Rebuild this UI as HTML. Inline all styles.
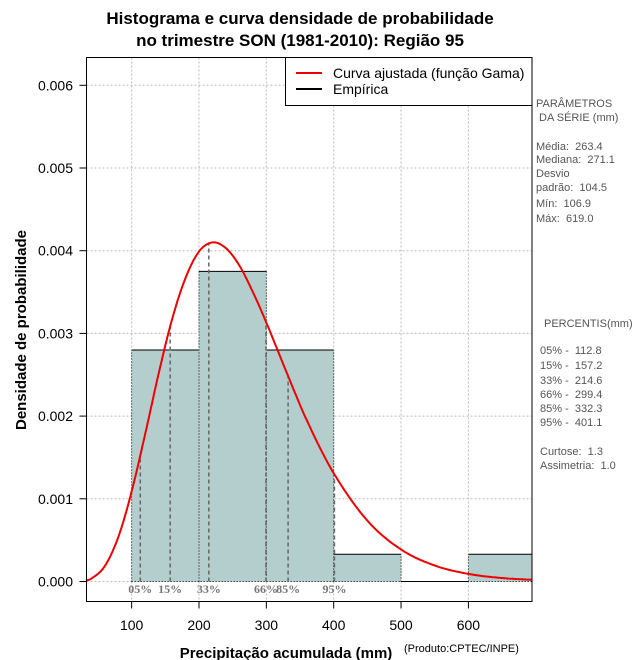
<!DOCTYPE html>
<html><head><meta charset="utf-8">
<style>
html,body{margin:0;padding:0;background:#fff;}
svg{display:block;font-family:"Liberation Sans",sans-serif;}
.side{font-size:11px;fill:#555;white-space:pre;}
</style></head>
<body>
<svg id="chart" width="640" height="660" viewBox="0 0 640 660" xmlns="http://www.w3.org/2000/svg">
<defs><clipPath id="clip"><rect x="86.5" y="57.5" width="445.5" height="544"/></clipPath></defs>
<text x="300" y="24" text-anchor="middle" font-size="17" font-weight="bold">Histograma e curva densidade de probabilidade</text>
<text x="300" y="46" text-anchor="middle" font-size="17" font-weight="bold">no trimestre SON (1981-2010): Região 95</text>
<g id="grid"></g>
<g id="bars" clip-path="url(#clip)"></g>
<g id="pct"></g>
<g id="curve" clip-path="url(#clip)"></g>
<g id="axes"></g>
<rect x="86.5" y="57.5" width="445.5" height="544" fill="none" stroke="#000"/>
<g>
<rect x="285.5" y="57.5" width="246.5" height="48" fill="#fff" stroke="#000"/>
<line x1="296" y1="73" x2="322" y2="73" stroke="#e00" stroke-width="2"/>
<text x="333" y="78" font-size="14">Curva ajustada (função Gama)</text>
<line x1="296" y1="89" x2="322" y2="89" stroke="#000" stroke-width="2"/>
<text x="333" y="94" font-size="14">Empírica</text>
</g>
<g>
<text class="side" x="536" y="107">PARÂMETROS</text>
<text class="side" x="539" y="121">DA SÉRIE (mm)</text>
<text class="side" x="536" y="150">Média:  263.4</text>
<text class="side" x="536" y="163">Mediana:  271.1</text>
<text class="side" x="536" y="177">Desvio</text>
<text class="side" x="536" y="191">padrão:  104.5</text>
<text class="side" x="536" y="207">Mín:  106.9</text>
<text class="side" x="536" y="222">Máx:  619.0</text>
</g>
<g>
<text class="side" x="544" y="327">PERCENTIS(mm)</text>
<text class="side" x="540" y="354">05% -  112.8</text>
<text class="side" x="540" y="369">15% -  157.2</text>
<text class="side" x="540" y="384">33% -  214.6</text>
<text class="side" x="540" y="398">66% -  299.4</text>
<text class="side" x="540" y="412">85% -  332.3</text>
<text class="side" x="540" y="426">95% -  401.1</text>
<text class="side" x="540" y="455">Curtose:  1.3</text>
<text class="side" x="540" y="469">Assimetria:  1.0</text>
</g>
<text transform="translate(26,330) rotate(-90)" text-anchor="middle" font-size="15" font-weight="bold">Densidade de probabilidade</text>
<text x="286" y="658" text-anchor="middle" font-size="15" font-weight="bold">Precipitação acumulada (mm)</text>
<text x="404" y="652" font-size="11">(Produto:CPTEC/INPE)</text>
</svg>
<script>
const binStarts = [100, 200, 300, 400, 500, 600];
const binDensity = [0.0028, 0.00375, 0.0028, 0.00033, 0, 0.00033];
const curveX = [20,30,40,60,80,100,120,140,160,180,200,220,240,260,280,300,330,360,400,450,500,550,600,650,700,720];
const curveY = [0.000004,0.00001,0.0000342,0.000185,0.000533,0.001088,0.00178,0.00251,0.00317,0.00367,0.00399,0.00410,0.00403,0.00382,0.00350,0.00313,0.00253,0.00195,0.00131,0.000736,0.000387,0.000193,0.000092,0.000042,0.000019,0.000014];
const pctLabels = ["05%","15%","33%","66%","85%","95%"];
const pctValues = [112.8,157.2,214.6,299.4,332.3,401.1];
const xTicks = [100,200,300,400,500,600];
const yTicks = [0,0.001,0.002,0.003,0.004,0.005,0.006];
const yTickLabels = ["0.000","0.001","0.002","0.003","0.004","0.005","0.006"];

const NS = "http://www.w3.org/2000/svg";
const X = v => 64.3 + v * 0.6735;
const Y = v => 581.5 - v * 82700;
const L = 86.5, R = 532, T = 57.5, B = 601.5;
function mk(tag, attrs, parent) {
  const e = document.createElementNS(NS, tag);
  for (const k in attrs) e.setAttribute(k, attrs[k]);
  document.getElementById(parent).appendChild(e);
  return e;
}
// Catmull-Rom evaluation over data points
function crAt(i, t) {
  const p0 = curveY[Math.max(i-1,0)], p1 = curveY[i], p2 = curveY[i+1], p3 = curveY[Math.min(i+2,curveY.length-1)];
  const x0 = curveX[Math.max(i-1,0)], x1 = curveX[i], x2 = curveX[i+1], x3 = curveX[Math.min(i+2,curveX.length-1)];
  const h = x2 - x1;
  const m1 = (p2 - p0) / (x2 - x0) * h, m2 = (p3 - p1) / (x3 - x1) * h;
  const t2 = t*t, t3 = t2*t;
  return (2*t3-3*t2+1)*p1 + (t3-2*t2+t)*m1 + (-2*t3+3*t2)*p2 + (t3-t2)*m2;
}
function interp(x) {
  for (let i = 0; i < curveX.length - 1; i++) {
    if (x >= curveX[i] && x <= curveX[i+1]) return crAt(i, (x - curveX[i]) / (curveX[i+1] - curveX[i]));
  }
  return 0;
}
xTicks.forEach(t => {
  const g = mk("line", {x1: X(t), x2: X(t), y1: T, y2: B, stroke: "#bbb", "stroke-dasharray": "2,2"}, "grid");
  
  
});
yTicks.forEach(t => {
  const g = mk("line", {x1: L, x2: R, y1: Y(t), y2: Y(t), stroke: "#bbb", "stroke-dasharray": "2,2"}, "grid");
  
  
});
binStarts.forEach((s, i) => {
  const x0 = X(s), x1 = X(s + 100), y = Y(binDensity[i]), y0 = Y(0);
  const r = mk("rect", {x: x0, y: y, width: x1 - x0, height: y0 - y, fill: "#b4cdcd"}, "bars");
  
  
  const tp = mk("line", {x1: x0, x2: x1, y1: y, y2: y, stroke: "#000", "stroke-width": 1}, "bars");
  
  
  const sd = mk("path", {d: `M${x0},${y0}V${y}M${x1},${y0}V${y}`, stroke: "#000", "stroke-dasharray": "1,2", fill: "none"}, "bars");
  
  
});
const base = mk("line", {x1: X(100), x2: X(700), y1: Y(0), y2: Y(0), stroke: "#000", "stroke-dasharray": "1,2"}, "bars");


pctValues.forEach((v, i) => {
  const ln = mk("line", {x1: X(v), x2: X(v), y1: Y(0), y2: Y(interp(v)), stroke: "#666", "stroke-width": 1.5, "stroke-dasharray": "4,3"}, "pct");
  
  
  const tx = mk("text", {x: X(v), y: 593, "text-anchor": "middle", "font-size": 12, "font-weight": "bold", fill: "#777", "font-family": "Liberation Serif, serif"}, "pct");
  tx.textContent = pctLabels[i];
  
  
});
let d = "";
for (let i = 0; i < curveX.length - 1; i++) {
  for (let k = 0; k < 10; k++) {
    const t = k / 10, xv = curveX[i] + t * (curveX[i+1] - curveX[i]);
    d += (d ? "L" : "M") + X(xv).toFixed(1) + "," + Y(crAt(i, t)).toFixed(1);
  }
}
d += "L" + X(curveX[curveX.length-1]).toFixed(1) + "," + Y(curveY[curveY.length-1]).toFixed(1);
const cp = mk("path", {d: d, stroke: "#e00", "stroke-width": 2, fill: "none"}, "curve");


xTicks.forEach(t => {
  const tk = mk("line", {x1: X(t), x2: X(t), y1: B, y2: B + 7, stroke: "#000"}, "axes");
  
  
  const lb = mk("text", {x: X(t), y: 630, "text-anchor": "middle", "font-size": 14}, "axes");
  lb.textContent = t;
  
  
});
yTicks.forEach((t, i) => {
  const tk = mk("line", {x1: L - 7, x2: L, y1: Y(t), y2: Y(t), stroke: "#000"}, "axes");
  
  
  const lb = mk("text", {x: 73, y: Y(t) + 5, "text-anchor": "end", "font-size": 14}, "axes");
  lb.textContent = yTickLabels[i];
  
  
});
</script>
</body></html>
